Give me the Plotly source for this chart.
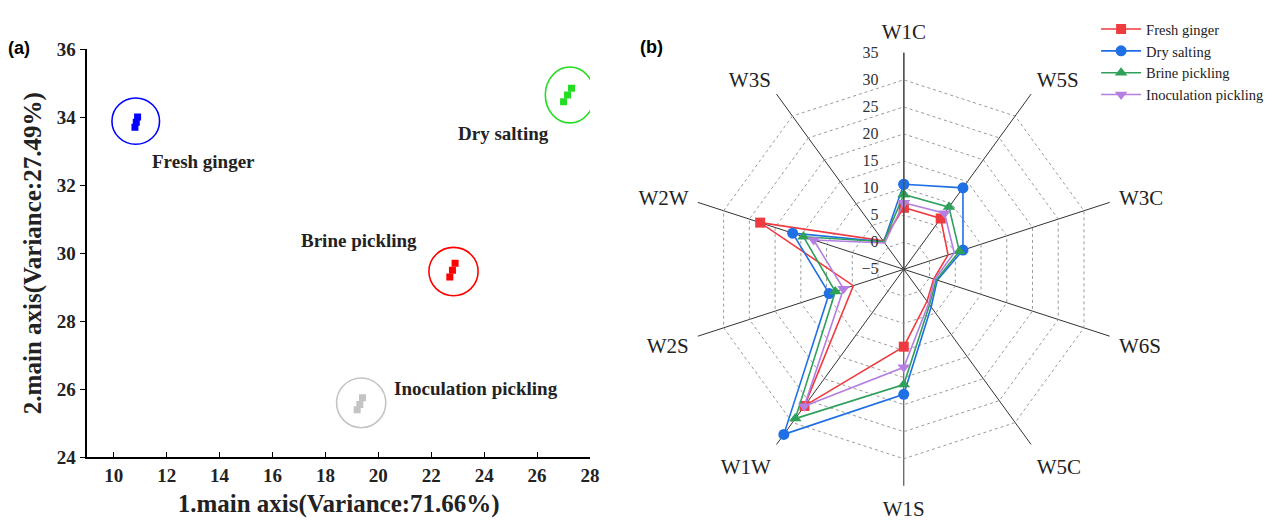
import plotly.graph_objects as go

# ---------------- Panel (a): PCA scores ----------------
groups = ["Fresh ginger", "Dry salting", "Brine pickling", "Inoculation pickling"]
pca_colors = ["#0000FF", "#22DD22", "#FF0000", "#C4C4C4"]
pc1_fresh = [10.9, 10.85, 10.8]
pc2_fresh = [34.0, 33.85, 33.7]
pc1_dry = [27.3, 27.15, 27.0]
pc2_dry = [34.85, 34.65, 34.45]
pc1_brine = [22.9, 22.8, 22.7]
pc2_brine = [29.7, 29.5, 29.3]
pc1_inoc = [19.4, 19.3, 19.2]
pc2_inoc = [25.75, 25.55, 25.4]
# confidence ellipses: centre and semi-axes (data units)
ell_cx = [10.83, 27.24, 22.84, 19.35]
ell_cy = [33.88, 34.65, 29.46, 25.6]
ell_ax = [0.9, 0.93, 0.93, 0.93]
ell_ay = [0.68, 0.82, 0.71, 0.73]
# group label positions (data units)
lab_x = [13.38, 24.73, 19.28, 23.68]
lab_y = [32.70, 33.53, 30.36, 26.03]
x_ticks = [10, 12, 14, 16, 18, 20, 22, 24, 26, 28]
y_ticks = [24, 26, 28, 30, 32, 34, 36]

# ---------------- Panel (b): E-nose radar ----------------
sensors = ["W1C", "W5S", "W3C", "W6S", "W5C", "W1S", "W1W", "W2S", "W2W", "W3S"]
radar_names = ["Fresh ginger", "Dry salting", "Brine pickling", "Inoculation pickling"]
radar_colors = ["#EF3B3F", "#1F6FE5", "#2EA05A", "#B47FE0"]
radar_symbols = ["square", "circle", "triangle-up", "triangle-down"]
radar_sizes = [10, 11, 11, 11]
fresh_vals = [6.4, 6.6, 3.6, 0.8, 2.3, 9.3, 26.2, 4.8, 22.9, 1.5]
dry_vals = [10.7, 13.6, 6.5, 1.5, 3.6, 18.1, 32.7, 9.5, 16.6, 1.3]
brine_vals = [8.8, 9.2, 5.8, 1.3, 3.1, 16.3, 29.1, 8.3, 14.5, 1.3]
inoc_vals = [7.3, 7.8, 4.8, 1.0, 2.8, 13.1, 26.3, 6.7, 12.5, 1.0]
r_ticks = [-5, 0, 5, 10, 15, 20, 25, 30, 35]

SERIF = "Liberation Serif"

fig = go.Figure()

pca_x = [pc1_fresh, pc1_dry, pc1_brine, pc1_inoc]
pca_y = [pc2_fresh, pc2_dry, pc2_brine, pc2_inoc]
for i, g in enumerate(groups):
    fig.add_trace(go.Scatter(
        x=pca_x[i], y=pca_y[i], mode="markers", name=g, showlegend=False,
        marker=dict(symbol="square", size=7, color=pca_colors[i], line=dict(width=0)),
        xaxis="x", yaxis="y"))
    fig.add_shape(type="circle", xref="x", yref="y",
                  x0=ell_cx[i] - ell_ax[i], x1=ell_cx[i] + ell_ax[i],
                  y0=ell_cy[i] - ell_ay[i], y1=ell_cy[i] + ell_ay[i],
                  line=dict(color=pca_colors[i], width=1.6))
    fig.add_annotation(x=lab_x[i], y=lab_y[i], xref="x", yref="y", text=g,
                       showarrow=False,
                       font=dict(family=SERIF, size=19, color="#222", weight="bold"))

radar_vals = [fresh_vals, dry_vals, brine_vals, inoc_vals]
for i, nm in enumerate(radar_names):
    fig.add_trace(go.Scatterpolar(
        r=radar_vals[i] + radar_vals[i][:1], theta=sensors + sensors[:1],
        mode="lines+markers", name=nm,
        line=dict(color=radar_colors[i], width=1.6),
        marker=dict(symbol=radar_symbols[i], size=radar_sizes[i], color=radar_colors[i]),
        subplot="polar"))

fig.update_layout(
    width=1288, height=523,
    margin=dict(l=0, r=0, t=0, b=0, autoexpand=False),
    paper_bgcolor="white", plot_bgcolor="white",
    xaxis=dict(domain=[0.0678, 0.4581], range=[9, 28], tickvals=x_ticks,
               ticks="inside", ticklen=6, tickwidth=1.3, tickcolor="black",
               showline=True, linecolor="black", linewidth=1.5,
               showgrid=False, zeroline=False, automargin=False,
               tickfont=dict(family=SERIF, size=19, color="#222", weight="bold"),
               title=dict(text="1.main axis(Variance:71.66%)", standoff=10,
                          font=dict(family=SERIF, size=25, color="#222", weight="bold"))),
    yaxis=dict(domain=[0.1256, 0.9063], range=[24, 36], tickvals=y_ticks,
               ticks="outside", ticklen=6, tickwidth=1.3, tickcolor="black",
               showline=True, linecolor="black", linewidth=1.5,
               showgrid=False, zeroline=False, automargin=False,
               tickfont=dict(family=SERIF, size=19, color="#222", weight="bold"),
               title=dict(text="2.main axis(Variance:27.49%)", standoff=8,
                          font=dict(family=SERIF, size=25, color="#222", weight="bold"))),
    polar=dict(
        domain=dict(x=[0.5336, 0.8698], y=[0.0711, 0.8991]),
        gridshape="linear", bgcolor="white",
        radialaxis=dict(range=[-5, 35], tickvals=r_ticks, angle=90, tickangle=90,
                        side="counterclockwise", showline=True, linecolor="#555", linewidth=1.5,
                        ticks="outside", ticklen=19, tickcolor="rgba(0,0,0,0)",
                        gridcolor="#9a9a9a", griddash="dot", gridwidth=1,
                        tickfont=dict(family=SERIF, size=16, color="#333")),
        angularaxis=dict(type="category", categoryarray=sensors, direction="clockwise",
                         rotation=90, showline=False, gridcolor="#333", gridwidth=1,
                         ticks="outside", ticklen=5, tickcolor="rgba(0,0,0,0)",
                         tickfont=dict(family=SERIF, size=21, color="#222")),
    ),
    legend=dict(x=0.851, y=0.975, xanchor="left", yanchor="top",
                bgcolor="rgba(0,0,0,0)", font=dict(family=SERIF, size=14.5, color="#222"),
                itemwidth=40, tracegroupgap=0),
)

fig.add_annotation(x=0.005, y=1 - 48 / 523, xref="paper", yref="paper", text="<b>(a)</b>",
                   showarrow=False, xanchor="left", yanchor="middle",
                   font=dict(family="Liberation Sans", size=18, color="black"))
fig.add_annotation(x=0.495, y=1 - 47 / 523, xref="paper", yref="paper", text="<b>(b)</b>",
                   showarrow=False, xanchor="left", yanchor="middle",
                   font=dict(family="Liberation Sans", size=18, color="black"))

fig.write_html("out.html")
